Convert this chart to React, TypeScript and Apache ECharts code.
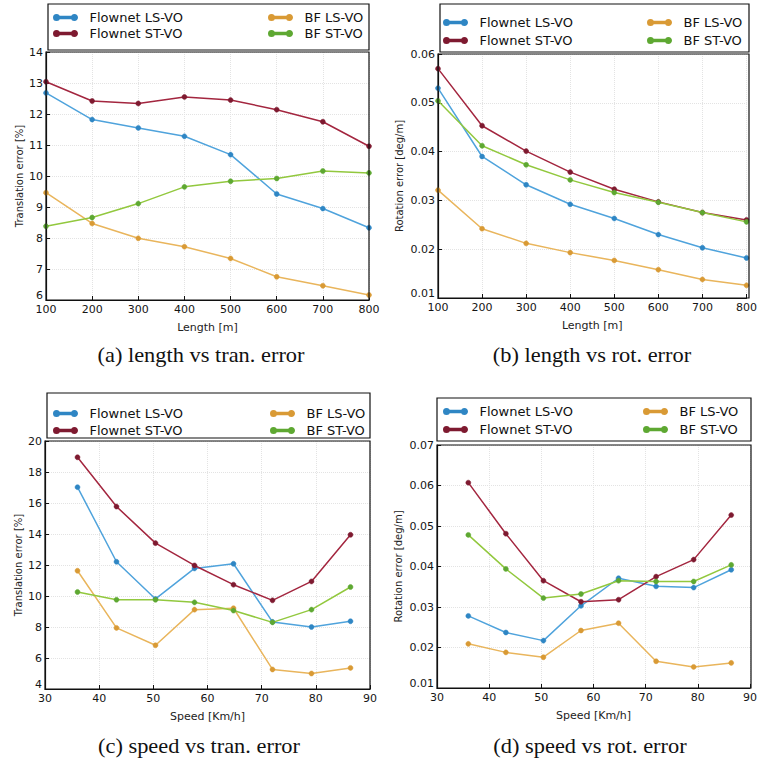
import React, { useEffect, useRef } from "react";
import * as echarts from "echarts";

const seriesNames = ["Flownet LS-VO", "Flownet ST-VO", "BF LS-VO", "BF ST-VO"];
const lengths = [100, 200, 300, 400, 500, 600, 700, 800];
const speeds = [36, 43.2, 50.4, 57.6, 64.8, 72, 79.2, 86.4];

// (a) length vs translation error [%]
const lenTranLS = [12.68, 11.82, 11.55, 11.28, 10.69, 9.42, 8.95, 8.33];
const lenTranST = [13.04, 12.42, 12.34, 12.55, 12.45, 12.14, 11.75, 10.96];
const lenTranBFLS = [9.46, 8.47, 7.99, 7.72, 7.34, 6.75, 6.46, 6.16];
const lenTranBFST = [8.38, 8.66, 9.11, 9.65, 9.83, 9.92, 10.16, 10.1];

// (b) length vs rotation error [deg/m]
const lenRotLS = [0.053, 0.039, 0.0332, 0.0292, 0.0263, 0.023, 0.0203, 0.0182];
const lenRotST = [0.057, 0.0453, 0.0401, 0.0358, 0.0323, 0.0297, 0.0275, 0.026];
const lenRotBFLS = [0.0321, 0.0242, 0.0212, 0.0193, 0.0177, 0.0158, 0.0138, 0.0126];
const lenRotBFST = [0.0504, 0.0412, 0.0373, 0.0342, 0.0316, 0.0296, 0.0275, 0.0256];

// (c) speed vs translation error [%]
const spdTranLS = [17.02, 12.21, 9.81, 11.78, 12.08, 8.33, 8.0, 8.37];
const spdTranST = [18.95, 15.77, 13.41, 11.97, 10.73, 9.72, 10.94, 13.95];
const spdTranBFLS = [11.63, 7.94, 6.82, 9.12, 9.21, 5.26, 5.0, 5.36];
const spdTranBFST = [10.26, 9.76, 9.76, 9.59, 9.06, 8.3, 9.12, 10.58];

// (d) speed vs rotation error [deg/m]
const spdRotLS = [0.0278, 0.0237, 0.0217, 0.0303, 0.0371, 0.0351, 0.0348, 0.0392];
const spdRotST = [0.0607, 0.0481, 0.0365, 0.0313, 0.0318, 0.0375, 0.0417, 0.0527];
const spdRotBFLS = [0.0209, 0.0188, 0.0176, 0.0242, 0.026, 0.0166, 0.0152, 0.0162];
const spdRotBFST = [0.0478, 0.0394, 0.0322, 0.0332, 0.0365, 0.0363, 0.0363, 0.0404];

const captions = [
  "(a) length vs tran. error",
  "(b) length vs rot. error",
  "(c) speed vs tran. error",
  "(d) speed vs rot. error",
];
const xTitles = ["Length [m]", "Length [m]", "Speed [Km/h]", "Speed [Km/h]"];
const yTitles = ["Translation error [%]", "Rotation error [deg/m]", "Translation error [%]", "Rotation error [deg/m]"];

const lineColors = ["#4fa3dc", "#a3263f", "#e9b55c", "#92c83e"];
const markerColors = ["#2f86c4", "#7e1a30", "#d99a35", "#5ea832"];

const legendIcon =
  "path://M0.5,3A2.5,2.5 0 1,1 5.5,3A2.5,2.5 0 1,1 0.5,3Z M5.5,2.35H18.5V3.65H5.5Z M18.5,3A2.5,2.5 0 1,1 23.5,3A2.5,2.5 0 1,1 18.5,3Z";

export default function App() {
  const ref = useRef<HTMLDivElement>(null);
  useEffect(() => {
    document.body.style.margin = "0";
    if (!ref.current) return;
    const chart = echarts.init(ref.current, undefined, { renderer: "svg" });

    const grids = [
      { left: 46, top: 52, width: 323, height: 248 },
      { left: 438, top: 54, width: 311, height: 244 },
      { left: 45, top: 441, width: 325, height: 248 },
      { left: 437, top: 445, width: 314, height: 243 },
    ];
    const legendBoxes = [
      { x: 48, y: 4, w: 321, h: 46 },
      { x: 440, y: 4, w: 309, h: 48 },
      { x: 47, y: 393, w: 323, h: 45 },
      { x: 437, y: 398, w: 314, h: 43 },
    ];
    // legend layout: [left col x, right col x, first row top, row gap]
    const legendLayout = [
      { lx: 53, rx: 268, top: 11, gap: 3 },
      { lx: 443, rx: 647, top: 16, gap: 5 },
      { lx: 53, rx: 270, top: 407, gap: 4 },
      { lx: 443, rx: 643, top: 405, gap: 5 },
    ];
    const captionPos = [
      { x: 201, y: 355 },
      { x: 592, y: 355 },
      { x: 199, y: 746 },
      { x: 590, y: 746 },
    ];
    const xRanges = [
      { min: 100, max: 800, interval: 100 },
      { min: 100, max: 800, interval: 100 },
      { min: 30, max: 90, interval: 10 },
      { min: 30, max: 90, interval: 10 },
    ];
    const yRanges = [
      { min: 6, max: 14, interval: 1, dec: 0 },
      { min: 0.01, max: 0.06, interval: 0.01, dec: 2 },
      { min: 4, max: 20, interval: 2, dec: 0 },
      { min: 0.01, max: 0.07, interval: 0.01, dec: 2 },
    ];
    const panelData = [
      [lenTranLS, lenTranST, lenTranBFLS, lenTranBFST],
      [lenRotLS, lenRotST, lenRotBFLS, lenRotBFST],
      [spdTranLS, spdTranST, spdTranBFLS, spdTranBFST],
      [spdRotLS, spdRotST, spdRotBFLS, spdRotBFST],
    ];
    const panelX = [lengths, lengths, speeds, speeds];

    const font = "DejaVu Sans";
    const tickStyle = { fontFamily: font, fontSize: 11, color: "#151515" };
    const gridLine = { show: true, lineStyle: { color: "#e3e3e3", type: "dotted" } };

    const xAxis = grids.map((_, i) => ({
      type: "value",
      gridIndex: i,
      min: xRanges[i].min,
      max: xRanges[i].max,
      interval: xRanges[i].interval,
      name: xTitles[i],
      nameLocation: "middle",
      nameGap: 22,
      nameTextStyle: { fontFamily: font, fontSize: 11, color: "#222" },
      axisLine: { show: true, onZero: false, lineStyle: { color: "#111", width: 1.2 } },
      axisTick: { show: true, inside: true, length: 4, lineStyle: { color: "#111" } },
      axisLabel: { ...tickStyle, margin: 4, showMinLabel: true, showMaxLabel: true },
      splitLine: gridLine,
    }));
    const yAxis = grids.map((_, i) => ({
      type: "value",
      gridIndex: i,
      min: yRanges[i].min,
      max: yRanges[i].max,
      interval: yRanges[i].interval,
      name: yTitles[i],
      nameLocation: "middle",
      nameGap: yRanges[i].dec ? 34 : 22,
      nameTextStyle: { fontFamily: font, fontSize: 10, color: "#222" },
      axisLine: { show: true, onZero: false, lineStyle: { color: "#111", width: 1.2 } },
      axisTick: { show: true, inside: true, length: 4, lineStyle: { color: "#111" } },
      axisLabel: {
        ...tickStyle,
        margin: 3,
        showMinLabel: true,
        showMaxLabel: true,
        formatter: (v: number) => {
          const s = v.toFixed(yRanges[i].dec);
          return Math.abs(v - yRanges[i].min) < 1e-9 ? `{lo|${s}}` : s;
        },
        rich: { lo: { ...tickStyle, padding: [0, 0, 9, 0] } },
      },
      splitLine: gridLine,
    }));

    const series: any[] = [];
    panelData.forEach((arrs, p) => {
      arrs.forEach((vals, s) => {
        series.push({
          type: "line",
          name: seriesNames[s],
          xAxisIndex: p,
          yAxisIndex: p,
          data: vals.map((v, k) => [panelX[p][k], v]),
          symbol: "circle",
          symbolSize: 5,
          lineStyle: { color: lineColors[s], width: 1.5 },
          itemStyle: { color: markerColors[s], borderColor: markerColors[s], borderWidth: 0.5 },
          z: 3 + s,
        });
      });
    });

    const legends: any[] = [];
    legendLayout.forEach((l) => {
      const common = {
        orient: "vertical",
        top: l.top,
        icon: legendIcon,
        itemWidth: 24,
        itemHeight: 5,
        itemGap: l.gap,
        padding: 0,
        textStyle: { fontFamily: font, fontSize: 13, color: "#111", padding: [0, 0, 0, 7] },
      };
      legends.push({ ...common, left: l.lx, data: [seriesNames[0], seriesNames[1]] });
      legends.push({ ...common, left: l.rx, data: [seriesNames[2], seriesNames[3]] });
    });

    const graphic: any[] = [];
    legendBoxes.forEach((b) => {
      graphic.push({
        type: "rect",
        shape: { x: b.x, y: b.y, width: b.w, height: b.h },
        style: { fill: "none", stroke: "#111", lineWidth: 1.2 },
        z: 1,
      });
    });
    grids.forEach((g) => {
      graphic.push({
        type: "rect",
        shape: { x: g.left, y: g.top, width: g.width, height: g.height },
        style: { fill: "none", stroke: "#111", lineWidth: 1.2 },
        z: 10,
        silent: true,
      });
    });
    captionPos.forEach((c, i) => {
      graphic.push({
        type: "text",
        x: c.x,
        y: c.y,
        scaleX: 1.12,
        style: {
          text: captions[i],
          fontFamily: "Liberation Serif",
          fontSize: 20,
          fill: "#111",
          align: "center",
          verticalAlign: "middle",
        },
      });
    });

    chart.setOption({
      animation: false,
      backgroundColor: "#fff",
      grid: grids.map((g) => ({ ...g, containLabel: false })),
      xAxis,
      yAxis,
      legend: legends,
      series,
      graphic,
    });
    return () => chart.dispose();
  }, []);
  return <div ref={ref} style={{ width: 760, height: 769 }} />;
}
